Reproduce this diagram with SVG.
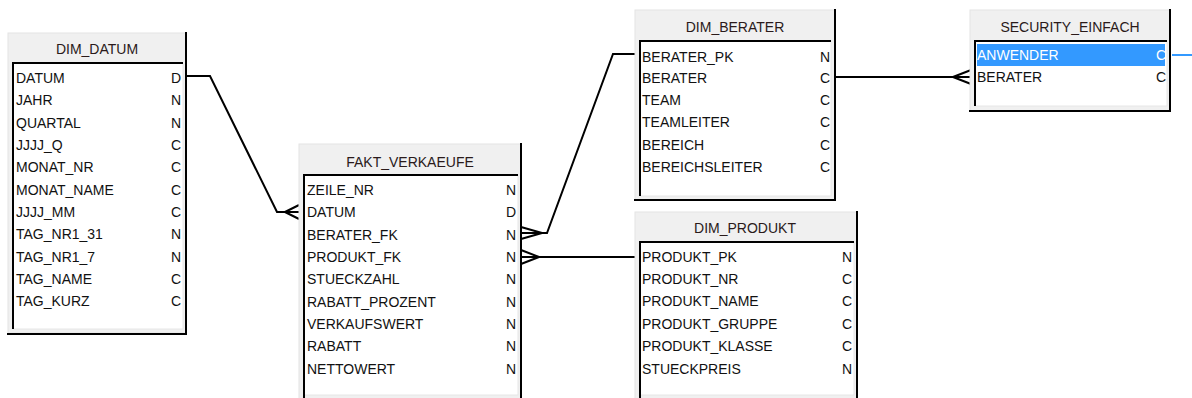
<svg xmlns="http://www.w3.org/2000/svg" width="1192" height="398" viewBox="0 0 1192 398">
<style>
.outer{fill:#f0f0f0;stroke:#e4e4e4;stroke-width:1}
.shadow{fill:none;stroke:#000;stroke-width:2}
.inner{fill:#fff;stroke:#e6e6e6;stroke-width:1}
.sunk{fill:none;stroke:#000;stroke-width:2}
text{font-family:"Liberation Sans",Arial,sans-serif;font-size:14px;fill:#111}
.hdr{text-anchor:middle;fill:#2a1a1a}
.typ{text-anchor:end}
.conn{fill:none;stroke:#000;stroke-width:2}
</style>
<rect width="1192" height="398" fill="#fff"/>

<g id="connectors">
  <!-- DIM_DATUM.DATUM -> FAKT.DATUM -->
  <polyline class="conn" points="187,76 210,76 277,212 299,212"/>
  <path class="conn" d="M285,212 L299,205 M285,212 L299,219"/>
  <!-- FAKT.BERATER_FK -> DIM_BERATER.BERATER_PK -->
  <polyline class="conn" points="521,233 547,233 613,54 636,54"/>
  <path class="conn" d="M542,233 L521,227 M542,233 L521,239"/>
  <!-- FAKT.PRODUKT_FK -> DIM_PRODUKT.PRODUKT_PK -->
  <polyline class="conn" points="521,257 636,257"/>
  <path class="conn" d="M539,257 L521,250 M539,257 L521,264"/>
  <!-- DIM_BERATER.BERATER -> SECURITY.BERATER -->
  <polyline class="conn" points="836,77 971,77"/>
  <path class="conn" d="M953,77 L971,70 M953,77 L971,84"/>
  <!-- SECURITY.ANWENDER link -->
  <line x1="1172" y1="55" x2="1192" y2="55" stroke="#3399ff" stroke-width="2"/>
</g>

<g id="DIM_DATUM">
  <rect class="outer" x="8" y="33" width="178" height="300"/>
  <polyline class="shadow" points="186,32 186,334 7,334"/>
  <text class="hdr" x="97" y="54">DIM_DATUM</text>
  <rect class="inner" x="13" y="63" width="170" height="266"/>
  <polyline class="sunk" points="13,329 13,63 183,63"/>
  <text x="16" y="83">DATUM</text><text class="typ" x="181" y="83">D</text>
  <text x="16" y="105">JAHR</text><text class="typ" x="181" y="105">N</text>
  <text x="16" y="128">QUARTAL</text><text class="typ" x="181" y="128">N</text>
  <text x="16" y="150">JJJJ_Q</text><text class="typ" x="181" y="150">C</text>
  <text x="16" y="172">MONAT_NR</text><text class="typ" x="181" y="172">C</text>
  <text x="16" y="195">MONAT_NAME</text><text class="typ" x="181" y="195">C</text>
  <text x="16" y="217">JJJJ_MM</text><text class="typ" x="181" y="217">C</text>
  <text x="16" y="239">TAG_NR1_31</text><text class="typ" x="181" y="239">N</text>
  <text x="16" y="262">TAG_NR1_7</text><text class="typ" x="181" y="262">N</text>
  <text x="16" y="284">TAG_NAME</text><text class="typ" x="181" y="284">C</text>
  <text x="16" y="306">TAG_KURZ</text><text class="typ" x="181" y="306">C</text>
</g>

<g id="FAKT_VERKAEUFE">
  <rect class="outer" x="299" y="144" width="222" height="260"/>
  <polyline class="shadow" points="521,143 521,400"/>
  <text class="hdr" x="410" y="167">FAKT_VERKAEUFE</text>
  <rect class="inner" x="304" y="175" width="214" height="220"/>
  <polyline class="sunk" points="304,400 304,175 518,175"/>
  <text x="307" y="195">ZEILE_NR</text><text class="typ" x="516" y="195">N</text>
  <text x="307" y="217">DATUM</text><text class="typ" x="516" y="217">D</text>
  <text x="307" y="240">BERATER_FK</text><text class="typ" x="516" y="240">N</text>
  <text x="307" y="262">PRODUKT_FK</text><text class="typ" x="516" y="262">N</text>
  <text x="307" y="284">STUECKZAHL</text><text class="typ" x="516" y="284">N</text>
  <text x="307" y="307">RABATT_PROZENT</text><text class="typ" x="516" y="307">N</text>
  <text x="307" y="329">VERKAUFSWERT</text><text class="typ" x="516" y="329">N</text>
  <text x="307" y="351">RABATT</text><text class="typ" x="516" y="351">N</text>
  <text x="307" y="374">NETTOWERT</text><text class="typ" x="516" y="374">N</text>
</g>

<g id="DIM_BERATER">
  <rect class="outer" x="635" y="10" width="200" height="190"/>
  <polyline class="shadow" points="835,9 835,200 634,200"/>
  <text class="hdr" x="735" y="32">DIM_BERATER</text>
  <rect class="inner" x="640" y="41" width="191" height="155"/>
  <polyline class="sunk" points="640,196 640,41 831,41"/>
  <text x="642" y="62">BERATER_PK</text><text class="typ" x="830" y="62">N</text>
  <text x="642" y="83">BERATER</text><text class="typ" x="830" y="83">C</text>
  <text x="642" y="105">TEAM</text><text class="typ" x="830" y="105">C</text>
  <text x="642" y="127">TEAMLEITER</text><text class="typ" x="830" y="127">C</text>
  <text x="642" y="150">BEREICH</text><text class="typ" x="830" y="150">C</text>
  <text x="642" y="172">BEREICHSLEITER</text><text class="typ" x="830" y="172">C</text>
</g>

<g id="DIM_PRODUKT">
  <rect class="outer" x="635" y="212" width="222" height="192"/>
  <polyline class="shadow" points="857,211 857,400"/>
  <text class="hdr" x="745" y="233">DIM_PRODUKT</text>
  <rect class="inner" x="640" y="242" width="214" height="153"/>
  <polyline class="sunk" points="640,400 640,242 854,242"/>
  <text x="642" y="262">PRODUKT_PK</text><text class="typ" x="852" y="262">N</text>
  <text x="642" y="284">PRODUKT_NR</text><text class="typ" x="852" y="284">C</text>
  <text x="642" y="306">PRODUKT_NAME</text><text class="typ" x="852" y="306">C</text>
  <text x="642" y="329">PRODUKT_GRUPPE</text><text class="typ" x="852" y="329">C</text>
  <text x="642" y="351">PRODUKT_KLASSE</text><text class="typ" x="852" y="351">C</text>
  <text x="642" y="374">STUECKPREIS</text><text class="typ" x="852" y="374">N</text>
</g>

<g id="SECURITY_EINFACH">
  <rect class="outer" x="970" y="10" width="200" height="101"/>
  <polyline class="shadow" points="1170,9 1170,111 969,111"/>
  <text class="hdr" x="1070" y="32">SECURITY_EINFACH</text>
  <rect class="inner" x="975" y="41" width="192" height="65"/>
  <polyline class="sunk" points="975,106 975,41 1167,41"/>
  <rect x="977" y="44" width="188" height="22" fill="#3399ff"/>
  <text x="977" y="60" fill="#fff" style="fill:#fff">ANWENDER</text><text class="typ" x="1166" y="60" style="fill:#fff">C</text>
  <text x="977" y="82">BERATER</text><text class="typ" x="1166" y="82">C</text>
</g>
</svg>
